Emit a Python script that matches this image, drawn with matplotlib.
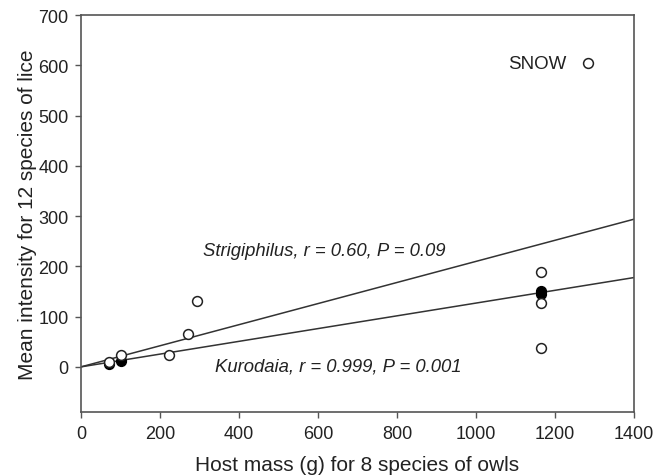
import numpy as np
import matplotlib.pyplot as plt

plt.rcParams['font.family'] = ['Liberation Sans', 'DejaVu Sans']

# open circles (Strigiphilus) and filled circles (Kurodaia)
open_mass = [71, 101, 222, 271, 293, 1165, 1165, 1165, 1284]
open_intensity = [10, 24, 24, 65, 131, 189, 127, 38, 604]
filled_mass = [71, 101, 1165, 1165]
filled_intensity = [6, 12, 152, 146]

# fitted regression lines (intercept, slope)
strig_fit = (0.0, 0.21)
kuro_fit = (0.0, 0.127)

snow_label = "SNOW"
strig_text = "Strigiphilus, r = 0.60, P = 0.09"
kuro_text = "Kurodaia, r = 0.999, P = 0.001"

fig = plt.figure(figsize=(6.53, 4.77), dpi=100)
ax = fig.add_axes([0.124, 0.134, 0.847, 0.832])

xline = np.array([0, 1400])
ax.plot(xline, strig_fit[0] + strig_fit[1] * xline, color='#333333', lw=1.1, zorder=1)
ax.plot(xline, kuro_fit[0] + kuro_fit[1] * xline, color='#333333', lw=1.1, zorder=1)

ax.scatter(filled_mass, filled_intensity, s=50, facecolor='black', edgecolor='black', lw=1, zorder=3)
ax.scatter(open_mass, open_intensity, s=50, facecolor='white', edgecolor='#222222', lw=1.1, zorder=4)

ax.text(1230, 604, snow_label, fontsize=13.5, ha='right', va='center', color='#222222')
ax.text(308, 231, strig_text, fontsize=13.3, style='italic', va='center', color='#222222')
ax.text(339, 2, kuro_text, fontsize=13.3, style='italic', va='center', color='#222222')

ax.set_xlim(0, 1400)
ax.set_ylim(-90, 700)
ax.set_xticks(range(0, 1401, 200))
ax.set_yticks(range(0, 701, 100))
ax.tick_params(direction='out', length=4, width=1, color='#555555', labelsize=13,
               labelcolor='#222222', pad=5)
for sp in ax.spines.values():
    sp.set_color('#555555')
    sp.set_linewidth(1.2)

ax.set_xlabel("Host mass (g) for 8 species of owls", fontsize=15, labelpad=10, color='#222222')
ax.set_ylabel("Mean intensity for 12 species of lice", fontsize=15, labelpad=1, color='#222222')

fig.savefig("out.png", dpi=100)
